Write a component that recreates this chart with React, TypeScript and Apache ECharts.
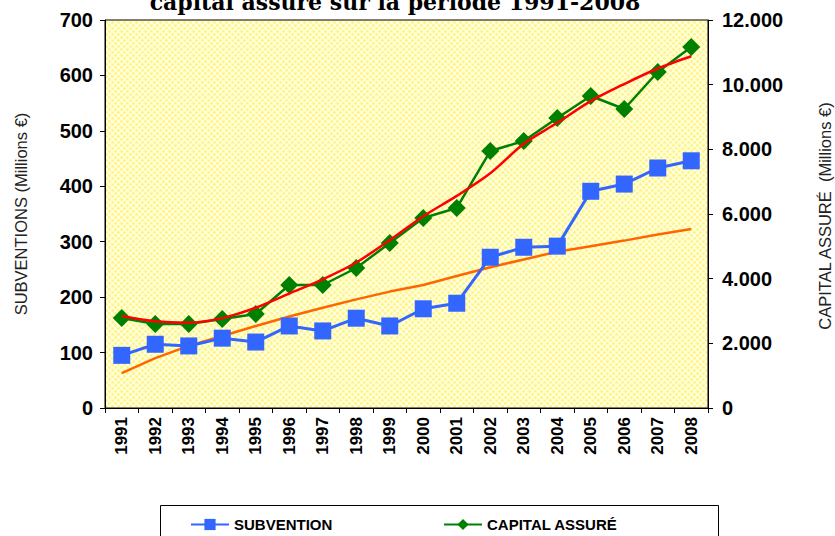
import React, { useEffect, useRef } from "react";
import * as echarts from "echarts";

const years = ["1991","1992","1993","1994","1995","1996","1997","1998","1999","2000","2001","2002","2003","2004","2005","2006","2007","2008"];
const subvention = [95,115,112,126,119,148,139,162,148,179,189,272,290,292,391,404,433,446];
const capital = [2783,2598,2598,2753,2907,3804,3804,4330,5103,5876,6186,7948,8258,8969,9649,9247,10392,11165];
const capitalTrend = [2845,2680,2640,2780,3100,3540,3980,4500,5190,5930,6560,7260,8170,8820,9490,10020,10500,10880];
const subventionTrend = [63,90,112,130,148,165,181,196,210,222,238,254,268,282,292,302,313,323];
const leftTicks = { min: 0, max: 700, interval: 100 };
const rightTicks = { min: 0, max: 12000, interval: 2000 };

function makePattern() {
  const c = document.createElement("canvas");
  c.width = 6; c.height = 6;
  const ctx = c.getContext("2d")!;
  ctx.fillStyle = "#FFFFDA";
  ctx.fillRect(0, 0, 6, 6);
  ctx.fillStyle = "#FFF385";
  ctx.beginPath(); ctx.arc(1.5, 1.5, 1.4, 0, Math.PI * 2); ctx.fill();
  ctx.beginPath(); ctx.arc(4.5, 4.5, 1.4, 0, Math.PI * 2); ctx.fill();
  return c;
}

export default function App() {
  const ref = useRef<HTMLDivElement>(null);
  useEffect(() => {
    const chart = echarts.init(ref.current!, null, { renderer: "svg" });
    const bold = { fontFamily: "Liberation Sans", fontWeight: "bold" as const, color: "#000" };
    chart.setOption({
      animation: false,
      backgroundColor: "#fff",
      grid: {
        left: 105, right: 127, top: 20, bottom: 128,
        show: true, borderColor: "#000", borderWidth: 1,
        backgroundColor: { image: makePattern(), repeat: "repeat" },
      },
      graphic: [
        {
          type: "text", x: 395, y: -9,
          style: {
            text: "capital assuré sur la période 1991-2008",
            font: "bold 22px 'DejaVu Serif'", fill: "#000", align: "center", verticalAlign: "top",
          },
        },
        {
          type: "text", x: 825, y: 216, rotation: Math.PI / 2,
          style: {
            text: "CAPITAL ASSURÉ  (Millions €)",
            font: "16.5px 'Liberation Sans'", fill: "#222", align: "center", verticalAlign: "middle",
          },
        },
        {
          type: "rect", shape: { x: 160.5, y: 505.5, width: 558, height: 40 },
          style: { fill: "#fff", stroke: "#000", lineWidth: 1 }, z: -1,
        },
      ],
      legend: [
        {
          data: ["SUBVENTION"], left: 185, top: 512, itemWidth: 38, itemHeight: 14,
          textStyle: { ...bold, fontSize: 15 },
        },
        {
          data: ["CAPITAL ASSURÉ"], left: 438, top: 512, itemWidth: 38, itemHeight: 14,
          textStyle: { ...bold, fontSize: 15 },
        },
      ],
      xAxis: {
        type: "category", data: years, boundaryGap: true,
        axisLine: { lineStyle: { color: "#000", width: 1 } },
        axisTick: { show: true, length: 5, lineStyle: { color: "#000" } },
        axisLabel: { rotate: 90, ...bold, fontSize: 17, margin: 9 },
      },
      yAxis: [
        {
          type: "value", ...leftTicks, position: "left",
          name: "SUBVENTIONS (Millions €)", nameLocation: "middle", nameGap: 76, nameRotate: 90,
          nameTextStyle: { fontFamily: "Liberation Sans", fontSize: 16.5, color: "#222" },
          axisLine: { show: true, lineStyle: { color: "#000" } },
          axisTick: { show: true, length: 5, lineStyle: { color: "#000" } },
          splitLine: { show: false },
          axisLabel: { ...bold, fontSize: 20, margin: 12 },
        },
        {
          type: "value", ...rightTicks, position: "right",
          axisLine: { show: true, lineStyle: { color: "#000" } },
          axisTick: { show: true, length: 5, lineStyle: { color: "#000" } },
          splitLine: { show: false },
          axisLabel: {
            ...bold, fontSize: 20, margin: 14,
            formatter: (v: number) => v === 0 ? "0" : v.toLocaleString("en-US").replace(/,/g, "."),
          },
        },
      ],
      series: [
        {
          name: "SUBVENTION-trend", type: "line", data: subventionTrend, yAxisIndex: 0,
          showSymbol: false, symbol: "none", lineStyle: { color: "#FF6600", width: 2.5 }, z: 2,
        },
        {
          name: "CAPITAL-trend", type: "line", data: capitalTrend, yAxisIndex: 1, smooth: 0.3,
          showSymbol: false, symbol: "none", lineStyle: { color: "#FF0000", width: 2.5 }, z: 4,
        },
        {
          name: "SUBVENTION", type: "line", data: subvention, yAxisIndex: 0,
          symbol: "rect", symbolSize: 17, itemStyle: { color: "#3366FF" },
          lineStyle: { color: "#3366FF", width: 3 }, z: 3,
        },
        {
          name: "CAPITAL ASSURÉ", type: "line", data: capital, yAxisIndex: 1,
          symbol: "diamond", symbolSize: 18, itemStyle: { color: "#008000" },
          lineStyle: { color: "#008000", width: 2.5 }, z: 3,
        },
      ],
    });
    return () => chart.dispose();
  }, []);
  return <div ref={ref} style={{ width: 835, height: 536, position: "absolute", left: 0, top: 0 }} />;
}
